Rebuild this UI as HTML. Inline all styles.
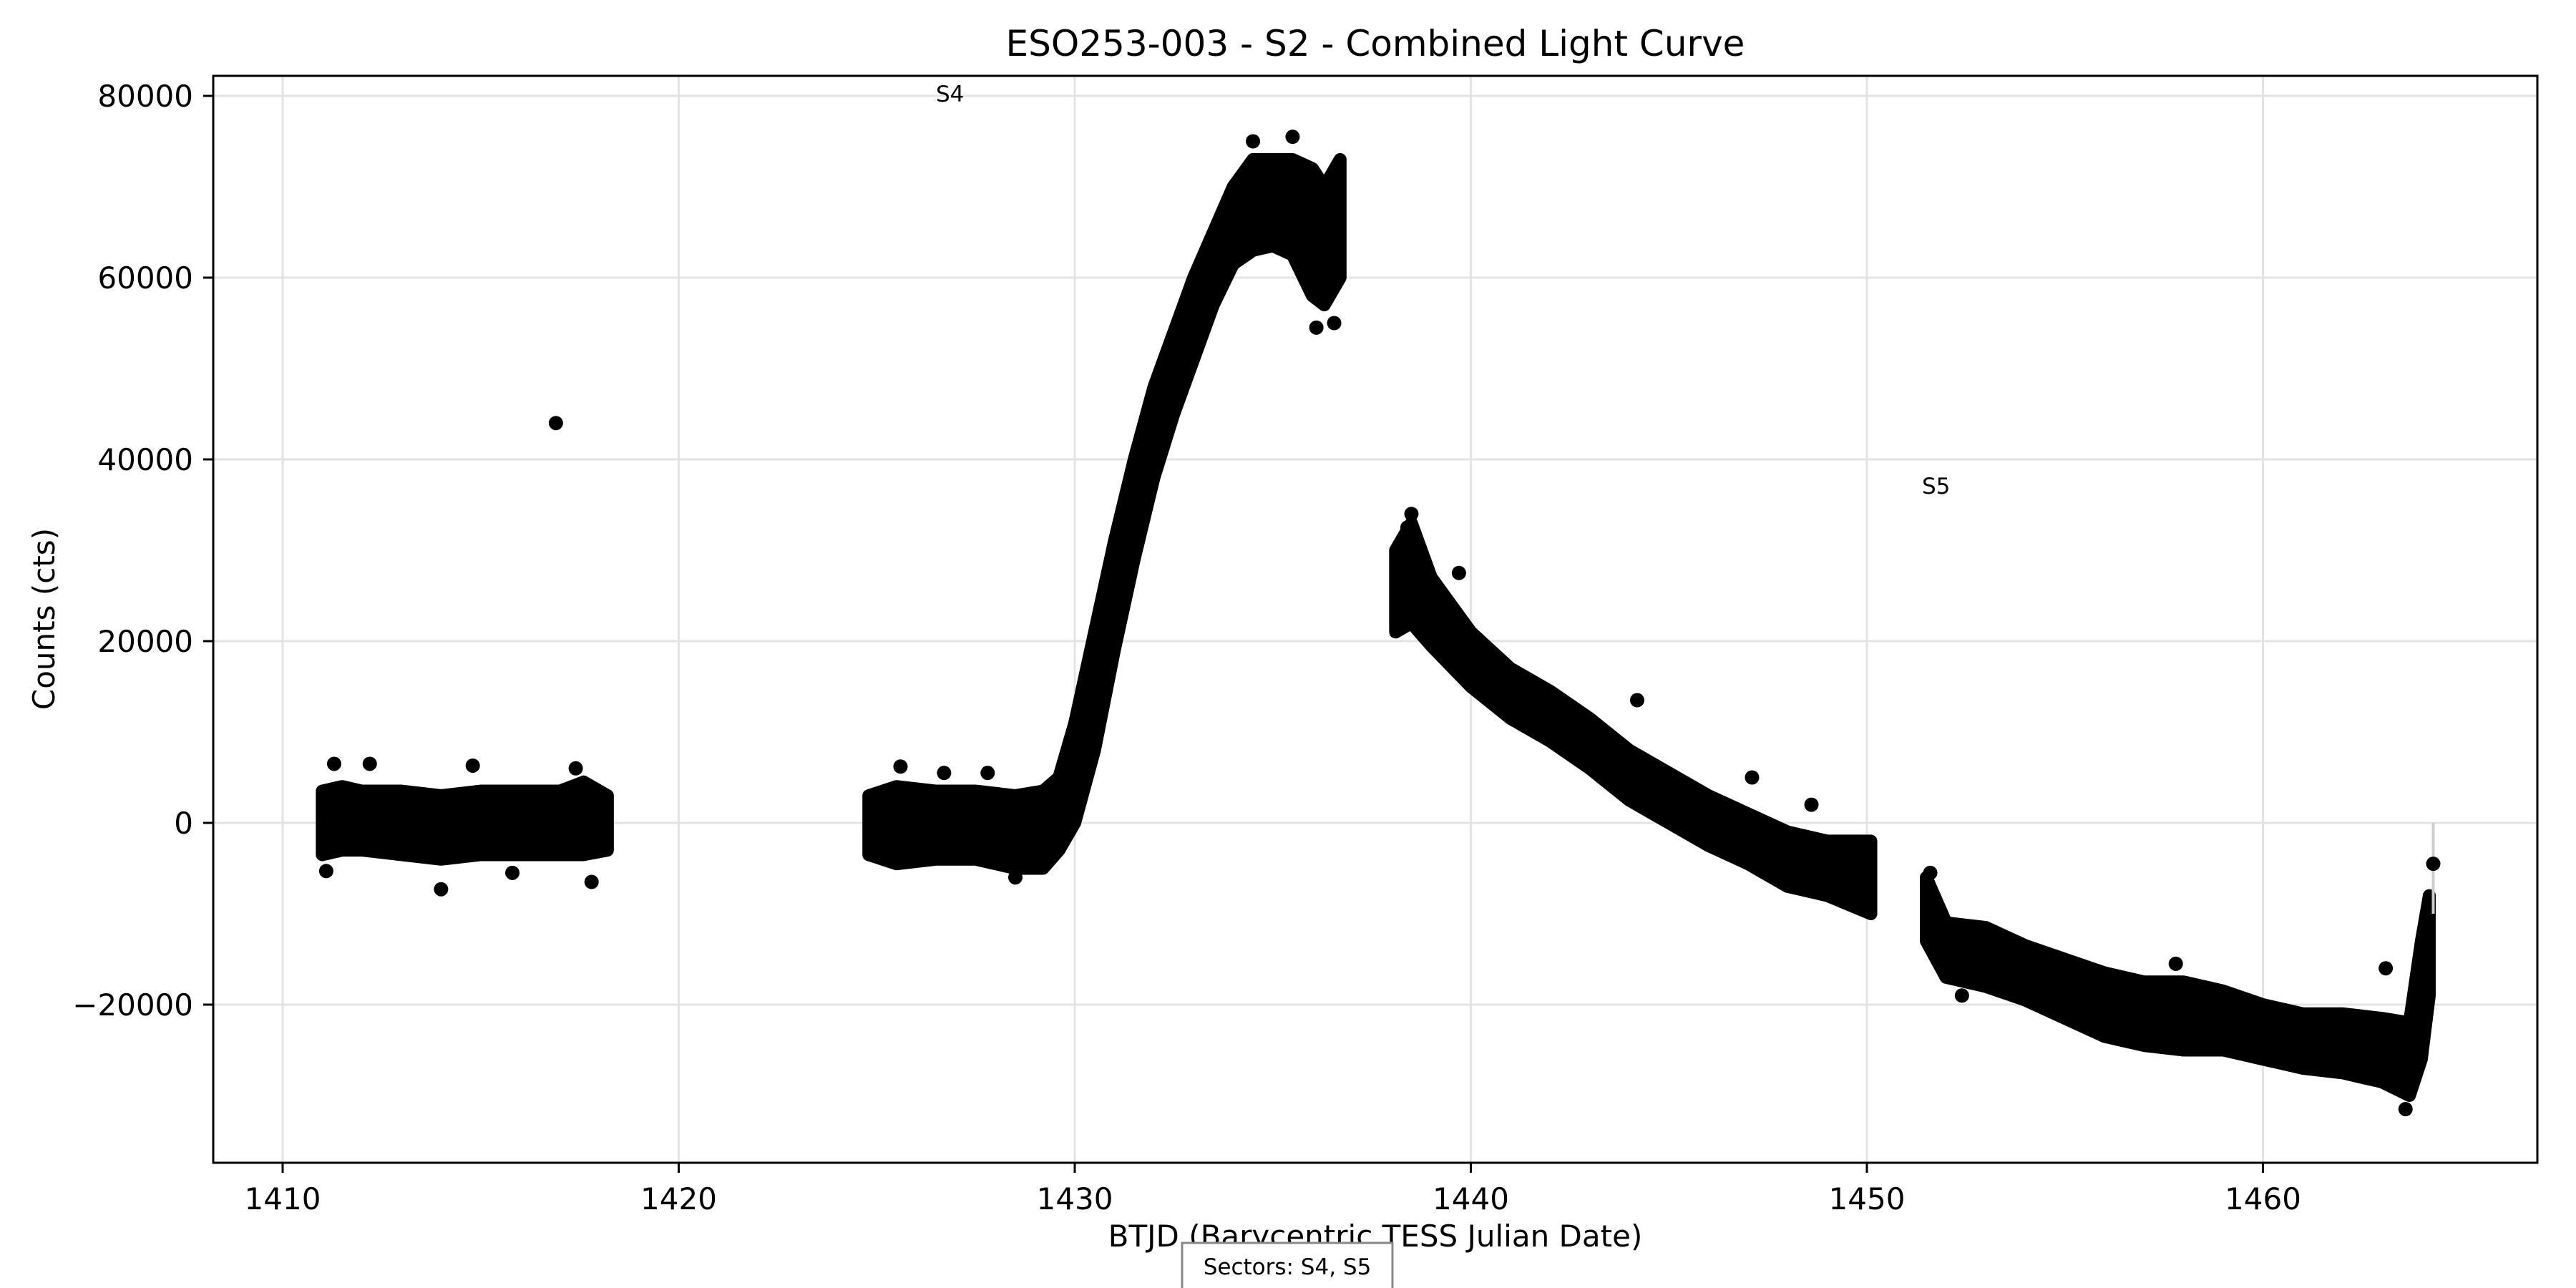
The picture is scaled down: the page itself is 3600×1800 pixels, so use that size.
<!DOCTYPE html>
<html><head><meta charset="utf-8"><style>
html,body{margin:0;padding:0;background:#fff;width:3600px;height:1800px;overflow:hidden}
svg text{font-family:"DejaVu Sans","Liberation Sans",sans-serif;fill:#000}
</style></head><body>
<svg id="chart" width="3600" height="1800" viewBox="0 0 3600 1800">
<rect width="3600" height="1800" fill="#fff"/>
<g id="grid"></g>
<g id="bands"></g>
<g id="pts"></g>
<rect x="298" y="106" width="3248" height="1519" fill="none" stroke="#000" stroke-width="3"/>
<g id="axes"></g>
<text x="1922" y="78" font-size="50" text-anchor="middle">ESO253-003 - S2 - Combined Light Curve</text>
<text x="1922" y="1742" font-size="42" text-anchor="middle">BTJD (Barycentric TESS Julian Date)</text>
<text x="0" y="0" font-size="42" text-anchor="middle" transform="translate(76,865) rotate(-90)">Counts (cts)</text>
<text x="1308" y="142" font-size="31">S4</text>
<text x="2686" y="690" font-size="31">S5</text>
<g>
<rect x="1652" y="1737" width="294" height="70" fill="#fff" stroke="#888" stroke-width="3"/>
<text x="1799" y="1781" font-size="31" text-anchor="middle">Sectors: S4, S5</text>
</g>
</svg>
<script>
const xTicks=[1410,1420,1430,1440,1450,1460];
const yTicks=[-20000,0,20000,40000,60000,80000];
const yTickLabels=["\u221220000","0","20000","40000","60000","80000"];
// band segments: time, lower, upper
const s1T=[1411.0,1411.5,1412,1413,1414,1415,1416,1417,1417.6,1418.2];
const s1Lo=[-3500,-3000,-3000,-3500,-4000,-3500,-3500,-3500,-3500,-3000];
const s1Hi=[3500,4000,3500,3500,3000,3500,3500,3500,4500,3000];
const s2T=[1424.8,1425.5,1426.5,1427.5,1428.5,1429.2,1429.6,1430,1430.5,1431,1431.5,1432,1432.5,1433,1433.5,1434,1434.5,1435,1435.5,1436,1436.3,1436.7];
const s2Lo=[-3500,-4500,-4000,-4000,-5000,-5000,-3000,0,8000,19000,29000,38000,45000,51000,57000,61500,63000,63500,62500,58000,57000,60000];
const s2Hi=[3000,4000,3500,3500,3000,3500,5000,11000,21000,31000,40000,48000,54000,60000,65000,70000,73000,73000,73000,72000,70000,73000];
const s3T=[1438.1,1438.5,1439,1440,1441,1442,1443,1444,1445,1446,1447,1448,1449,1450.1];
const s3Lo=[21000,22000,19500,15000,11500,9000,6000,2500,0,-2500,-4500,-7000,-8000,-10000];
const s3Hi=[30000,33000,27000,21000,17000,14500,11500,8000,5500,3000,1000,-1000,-2000,-2000];
const s4T=[1451.5,1452,1453,1454,1455,1456,1457,1458,1459,1460,1461,1462,1463,1463.7,1464.0,1464.2];
const s4Lo=[-13000,-17000,-18000,-19500,-21500,-23500,-24500,-25000,-25000,-26000,-27000,-27500,-28500,-30000,-26000,-19000];
const s4Hi=[-6000,-11000,-11500,-13500,-15000,-16500,-17500,-17500,-18500,-20000,-21000,-21000,-21500,-22000,-13000,-8000];
// individual outlier points
const ptT=[1411.1,1411.3,1412.2,1414.0,1414.8,1415.8,1416.9,1417.4,1417.8,1425.6,1426.7,1427.8,1428.5,1438.4,1438.5,1439.7,1444.2,1447.1,1448.6,1451.6,1452.4,1457.8,1463.1,1463.6,1464.3,1436.55,1435.5,1434.5,1436.1];
const ptV=[-5300,6500,6500,-7300,6300,-5500,44000,6000,-6500,6200,5500,5500,-6000,32500,34000,27500,13500,5000,2000,-5500,-19000,-15500,-16000,-31500,-4500,55000,75500,75000,54500];
const X=t=>395+(t-1410)*55.35;
const Y=v=>1150-v*254/20000;
const ns="http://www.w3.org/2000/svg";
function mk(tag,parent,attrs){const e=document.createElementNS(ns,tag);for(const k in attrs)e.setAttribute(k,attrs[k]);parent.appendChild(e);return e;}
const grid=document.getElementById('grid'),axes=document.getElementById('axes');
xTicks.forEach(t=>{
 const g=mk('line',grid,{x1:X(t),x2:X(t),y1:106,y2:1625,stroke:'#e3e3e3','stroke-width':3});
 
 
 const tk=mk('line',axes,{x1:X(t),x2:X(t),y1:1625,y2:1639,stroke:'#000','stroke-width':3});
 
 
 const tx=mk('text',axes,{x:X(t),y:1690,'font-size':42,'text-anchor':'middle'});tx.textContent=t;
 
 
});
yTicks.forEach((v,i)=>{
 const g=mk('line',grid,{x1:298,x2:3546,y1:Y(v),y2:Y(v),stroke:'#e3e3e3','stroke-width':3});
 
 
 const tk=mk('line',axes,{x1:284,x2:298,y1:Y(v),y2:Y(v),stroke:'#000','stroke-width':3});
 
 
 const tx=mk('text',axes,{x:270,y:Y(v)+15,'font-size':42,'text-anchor':'end'});tx.textContent=yTickLabels[i];
 
 
});
const bands=document.getElementById('bands');
[[s1T,s1Lo,s1Hi,'sector-s4-segment-1'],[s2T,s2Lo,s2Hi,'sector-s4-segment-2'],[s3T,s3Lo,s3Hi,'sector-s5-segment-1'],[s4T,s4Lo,s4Hi,'sector-s5-segment-2']].forEach(([T,L,H,n])=>{
 let p=T.map((t,i)=>X(t)+','+Y(H[i]));
 for(let i=T.length-1;i>=0;i--)p.push(X(T[i])+','+Y(L[i]));
 const pg=mk('polygon',bands,{points:p.join(' '),fill:'#000',stroke:'#000','stroke-width':18,'stroke-linejoin':'round'});
 
 
});
const pts=document.getElementById('pts');
const eb=mk('line',pts,{x1:X(1464.3),x2:X(1464.3),y1:Y(0),y2:Y(-10000),stroke:'#ccc','stroke-width':4});


ptT.forEach((t,i)=>{
 const c=mk('circle',pts,{cx:X(t),cy:Y(ptV[i]),r:10,fill:'#000'});
 
 
});
</script>
</body></html>
